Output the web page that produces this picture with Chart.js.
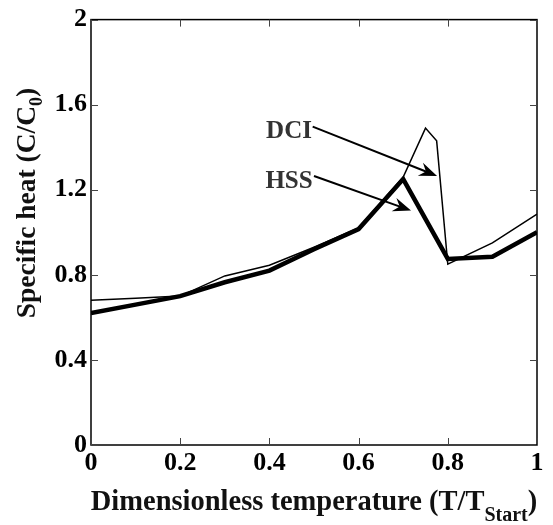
<!DOCTYPE html>
<html>
<head>
<meta charset="utf-8">
<script src="https://cdn.jsdelivr.net/npm/chart.js@4/dist/chart.umd.min.js"></script>
<style>
    body { margin: 0; background: #fff; }
    #grafico { display: block; }
</style>
</head>
<body>
<canvas id="grafico" width="553" height="525"></canvas>
<script>
// DATOS
var hssX = [0, 0.1, 0.2, 0.3, 0.4, 0.5, 0.6, 0.7, 0.8, 0.9, 1.0];
var hssY = [0.62, 0.66, 0.70, 0.765, 0.82, 0.92, 1.015, 1.25, 0.875, 0.885, 1.0];

var dciX = [0, 0.1, 0.2, 0.3, 0.4, 0.5, 0.6, 0.7, 0.75, 0.775, 0.8, 0.9, 1.0];
var dciY = [0.68, 0.69, 0.70, 0.795, 0.845, 0.93, 1.02, 1.26, 1.49, 1.43, 0.85, 0.95, 1.085];

var xTicks = [0, 0.2, 0.4, 0.6, 0.8, 1];
var yTicks = [0, 0.4, 0.8, 1.2, 1.6, 2];

// etiquetas con flecha (en unidades de datos)
var etiquetas = [
    { texto: 'DCI', x: 0.444, y: 1.474, desde: [0.497, 1.497], hasta: [0.776, 1.265] },
    { texto: 'HSS', x: 0.444, y: 1.237, desde: [0.5, 1.265], hasta: [0.7175, 1.102] }
];

function puntos(xs, ys) {
    return xs.map(function (x, i) { return { x: x, y: ys[i] }; });
}

function formato(v) {
    return String(+v.toFixed(1));
}

var fuenteTicks = { family: 'Liberation Serif', weight: 'bold', size: 26 };

// MARCO, TICKS HACIA DENTRO, TITULOS Y FLECHAS
var extras = {
    id: 'extras',
    beforeDraw: function (chart) {
        var c = chart.ctx;
        c.save();
        c.fillStyle = '#fff';
        c.fillRect(0, 0, chart.width, chart.height);
        c.restore();
    },
    afterDraw: function (chart) {
        var c = chart.ctx;
        var a = chart.chartArea;
        var sx = chart.scales.x;
        var sy = chart.scales.y;
        c.save();

        c.strokeStyle = '#000';
        c.lineWidth = 1.5;
        c.strokeRect(a.left, a.top, a.right - a.left, a.bottom - a.top);

        c.lineWidth = 1;
        c.strokeStyle = '#444';
        c.beginPath();
        xTicks.forEach(function (t) {
            var px = Math.round(sx.getPixelForValue(t)) + 0.5;
            c.moveTo(px, a.bottom); c.lineTo(px, a.bottom - 7);
            c.moveTo(px, a.top); c.lineTo(px, a.top + 7);
        });
        yTicks.forEach(function (t) {
            var py = Math.round(sy.getPixelForValue(t)) + 0.5;
            c.moveTo(a.left, py); c.lineTo(a.left + 7, py);
            c.moveTo(a.right, py); c.lineTo(a.right - 7, py);
        });
        c.stroke();

        // titulo eje x con subindice
        c.fillStyle = '#111';
        c.textBaseline = 'alphabetic';
        c.textAlign = 'left';
        var fPrin = 'bold 28.5px "Liberation Serif"';
        var fSub = 'bold 20px "Liberation Serif"';
        c.font = fPrin;
        var t1 = 'Dimensionless temperature (T/T';
        var w1 = c.measureText(t1).width;
        var w3 = c.measureText(')').width;
        c.font = fSub;
        var w2 = c.measureText('Start').width;
        var x0 = (a.left + a.right) / 2 - (w1 + w2 + w3) / 2;
        c.font = fPrin;
        c.fillText(t1, x0, 510);
        c.font = fSub;
        c.fillText('Start', x0 + w1, 521);
        c.font = fPrin;
        c.fillText(')', x0 + w1 + w2, 510);

        // titulo eje y (girado)
        c.save();
        c.translate(35, 203);
        c.rotate(-Math.PI / 2);
        var fPrinY = 'bold 27.5px "Liberation Serif"';
        var fSub2 = 'bold 18px "Liberation Serif"';
        c.font = fPrinY;
        var y1 = 'Specific heat (C/C';
        var v1 = c.measureText(y1).width;
        var v3 = c.measureText(')').width;
        c.font = fSub2;
        var v2 = c.measureText('0').width;
        var y0 = -(v1 + v2 + v3) / 2;
        c.font = fPrinY;
        c.fillText(y1, y0, 0);
        c.font = fSub2;
        c.fillText('0', y0 + v1, 7);
        c.font = fPrinY;
        c.fillText(')', y0 + v1 + v2, 0);
        c.restore();

        // etiquetas DCI / HSS con flechas
        etiquetas.forEach(function (e) {
            c.font = 'bold 25px "Liberation Serif"';
            c.fillStyle = '#333';
            c.textAlign = 'center';
            c.textBaseline = 'middle';
            c.fillText(e.texto, sx.getPixelForValue(e.x), sy.getPixelForValue(e.y));

            var x1 = sx.getPixelForValue(e.desde[0]), y1p = sy.getPixelForValue(e.desde[1]);
            var x2 = sx.getPixelForValue(e.hasta[0]), y2 = sy.getPixelForValue(e.hasta[1]);
            var ang = Math.atan2(y2 - y1p, x2 - x1);
            c.strokeStyle = '#000';
            c.lineWidth = 2;
            c.beginPath();
            c.moveTo(x1, y1p);
            c.lineTo(x2 - 8 * Math.cos(ang), y2 - 8 * Math.sin(ang));
            c.stroke();

            c.save();
            c.translate(x2, y2);
            c.rotate(ang);
            c.fillStyle = '#000';
            c.beginPath();
            c.moveTo(0, 0);
            c.lineTo(-18, -7);
            c.lineTo(-12, 0);
            c.lineTo(-18, 7);
            c.closePath();
            c.fill();
            c.restore();
        });

        c.restore();
    }
};

const ctx = document.getElementById('grafico').getContext('2d');

var chart = new Chart(ctx, {
    type: 'scatter',
    data: {
        datasets: [{
            label: 'HSS',
            data: puntos(hssX, hssY),
            showLine: true,
            borderColor: '#000',
            borderWidth: 4.5,
            pointRadius: 0,
            tension: 0
        },
        {
            label: 'DCI',
            data: puntos(dciX, dciY),
            showLine: true,
            borderColor: '#000',
            borderWidth: 1.5,
            pointRadius: 0,
            tension: 0
        }]
    },
    options: {
        responsive: false,
        animation: false,
        layout: { padding: { top: 15, right: 16, left: 0, bottom: 0 } },
        plugins: {
            legend: { display: false },
            tooltip: { enabled: false }
        },
        scales: {
            x: {
                type: 'linear',
                min: 0,
                max: 1,
                grid: { display: false, drawTicks: false },
                border: { display: false },
                ticks: {
                    stepSize: 0.2,
                    color: '#000',
                    font: fuenteTicks,
                    padding: 3,
                    maxRotation: 0,
                    callback: formato
                },
                afterFit: function (s) { s.height = 80; }
            },
            y: {
                type: 'linear',
                min: 0,
                max: 2,
                grid: { display: false, drawTicks: false },
                border: { display: false },
                ticks: {
                    stepSize: 0.4,
                    color: '#000',
                    font: fuenteTicks,
                    padding: 4,
                    callback: formato
                },
                afterFit: function (s) { s.width = 91; }
            }
        }
    },
    plugins: [extras]
});
</script>
</body>
</html>
